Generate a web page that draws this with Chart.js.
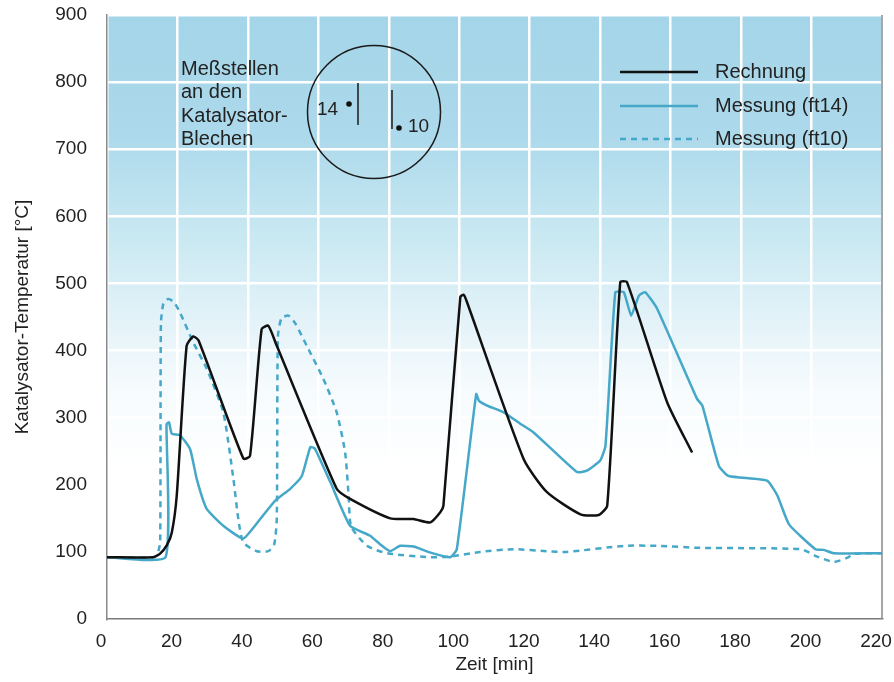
<!DOCTYPE html>
<html>
<head>
<meta charset="utf-8">
<title>Katalysator-Temperatur</title>
<script src="https://cdn.jsdelivr.net/npm/chart.js@4.4.1/dist/chart.umd.min.js"></script>
<style>
  html, body { margin: 0; padding: 0; background: #ffffff; }
  #wrap { width: 894px; height: 682px; }
</style>
</head>
<body>
<div id="wrap"><canvas id="tempChart" width="894" height="682"></canvas></div>
<script>
// ================================================================
// Data [START]
// ================================================================
const xTicks = [0, 20, 40, 60, 80, 100, 120, 140, 160, 180, 200, 220];
const yTicks = [0, 100, 200, 300, 400, 500, 600, 700, 800, 900];

const seriesLabels = ['Rechnung', 'Messung (ft14)', 'Messung (ft10)'];

// Rechnung (calculated)
const rechnungT = [0, 13, 15, 17, 18.4, 19.8, 22.6, 24.5, 26, 38.7, 40.6, 43.9, 45.8, 48.2,
  65.2, 69, 80.4, 87, 91.8, 94.6, 95.5, 100.3, 101.3, 102.2, 118.3, 124.9, 134.4, 139.6,
  142, 145.7, 147.6, 159, 166.1];
const rechnungV = [92, 92, 97, 110, 129, 184, 407, 421, 415, 239, 243, 432, 437, 407,
  194, 179, 150, 149, 144, 159, 169, 480, 483, 472, 238, 189, 156, 155,
  169, 502, 502, 323, 248];

// Messung ft14 (solid)
const ft14T = [0, 16.6, 16.9, 17.6, 18.4, 20.7, 23.6, 25.5, 28.3, 33, 38.7, 43.5, 47.7, 52,
  55.3, 57.7, 59, 63.4, 69, 74.7, 77.6, 80.4, 83.2, 87, 91.8, 97.4, 99.3, 104.8, 105.6,
  107.9, 112.6, 117.3, 121.1, 133.4, 136.2, 140, 141.5, 144.3, 146.7, 148.8, 151, 152.8,
  156.2, 167.5, 169, 173.7, 176.5, 187.4, 190.3, 193.6, 201.1, 203.5, 206.3, 220];
const ft14V = [92, 92, 290, 293, 276, 274, 253, 208, 164, 139, 120, 149, 176, 194,
  213, 256, 254, 204, 139, 124, 111, 101, 109, 108, 99, 92, 104, 335, 325,
  318, 308, 291, 278, 219, 221, 236, 258, 487, 487, 452, 482, 487,
  462, 328, 318, 228, 213, 206, 184, 141, 104, 103, 98, 98];

// Messung ft10 (dashed)
const ft10T = [0, 13.5, 14.5, 15.1, 15.3, 16, 17.4, 19, 20.7, 24.5, 28.3, 33, 35.9, 37.3,
  38.7, 42.5, 45.8, 47.5, 48.2, 48.5, 49.5, 51.5, 53.5, 56.7, 61.4, 65.2, 67.6, 68.6,
  69.3, 73.8, 79.5, 91.8, 97.4, 106, 115.4, 124.9, 130.5, 146.7, 156.2, 168.5, 196.9,
  201.6, 206.3, 210.1, 212, 220];
const ft10V = [92, 92, 100, 115, 440, 470, 477, 472, 457, 412, 373, 308, 208, 148,
  114, 101, 101, 112, 150, 420, 448, 452, 440, 407, 358, 308, 248, 183,
  138, 109, 98, 92, 93, 100, 104, 101, 100, 109, 109, 106, 104,
  93, 85, 91, 97, 98];
// ================================================================
// Data [END]
// ================================================================

const toPoints = (ts, vs) => ts.map((t, i) => ({ x: t, y: vs[i] }));

const FONT = "'Liberation Sans', Arial, Helvetica, sans-serif";
const TEXT = '#222222';
const CYAN = '#45a8c8';

// background gradient + right border
const backgroundPlugin = {
  id: 'bgGradient',
  beforeDraw(chart) {
    const { ctx, chartArea } = chart;
    const g = ctx.createLinearGradient(0, chartArea.top, 0, chartArea.bottom);
    g.addColorStop(0, '#a4d5e8');
    g.addColorStop(0.2, '#acd9eb');
    g.addColorStop(0.36, '#c8e8f2');
    g.addColorStop(0.5, '#e2f2f8');
    g.addColorStop(0.62, '#f6fbfd');
    g.addColorStop(0.75, '#ffffff');
    g.addColorStop(1, '#ffffff');
    ctx.save();
    ctx.fillStyle = g;
    ctx.fillRect(chartArea.left, chartArea.top, chartArea.right - chartArea.left, chartArea.bottom - chartArea.top);
    ctx.restore();
  },
  afterDraw(chart) {
    const { ctx, chartArea } = chart;
    ctx.save();
    ctx.strokeStyle = '#8a8a8a';
    ctx.lineWidth = 1.5;
    ctx.beginPath();
    ctx.moveTo(chartArea.right, chartArea.top);
    ctx.lineTo(chartArea.right, chartArea.bottom);
    ctx.stroke();
    ctx.restore();
  }
};

// legend (top right) and the inset with measuring points
const annotationPlugin = {
  id: 'annotations',
  afterDraw(chart) {
    const { ctx } = chart;
    ctx.save();
    ctx.font = '20px ' + FONT;
    ctx.fillStyle = TEXT;
    ctx.textBaseline = 'middle';

    // legend
    const rows = [72, 106, 139];
    chart.data.datasets.forEach((ds, i) => {
      ctx.beginPath();
      ctx.strokeStyle = ds.borderColor;
      ctx.lineWidth = ds.borderWidth;
      ctx.setLineDash(ds.borderDash || []);
      ctx.moveTo(620, rows[i]);
      ctx.lineTo(698, rows[i]);
      ctx.stroke();
      ctx.setLineDash([]);
      ctx.fillText(ds.label, 715, rows[i]);
    });

    // inset text
    const inset = ['Meßstellen', 'an den', 'Katalysator-', 'Blechen'];
    inset.forEach((s, i) => ctx.fillText(s, 181, 69 + i * 23.5));

    // circle
    ctx.strokeStyle = '#1a1a1a';
    ctx.lineWidth = 1.5;
    ctx.beginPath();
    ctx.arc(374, 112, 66.5, 0, Math.PI * 2);
    ctx.stroke();

    // sheets
    ctx.beginPath();
    ctx.moveTo(358, 83);
    ctx.lineTo(358, 125);
    ctx.moveTo(392, 90);
    ctx.lineTo(392, 129);
    ctx.stroke();

    // dots
    ctx.fillStyle = '#111111';
    ctx.beginPath();
    ctx.arc(349, 104, 2.8, 0, Math.PI * 2);
    ctx.fill();
    ctx.beginPath();
    ctx.arc(399, 128, 2.8, 0, Math.PI * 2);
    ctx.fill();

    ctx.fillStyle = TEXT;
    ctx.font = '19px ' + FONT;
    ctx.fillText('14', 317, 110);
    ctx.fillText('10', 408, 127);
    ctx.restore();
  }
};

const config = {
  type: 'line',
  data: {
    datasets: [
      {
        label: seriesLabels[0],
        data: toPoints(rechnungT, rechnungV),
        borderColor: '#111111',
        borderWidth: 2.5,
        pointRadius: 0,
        tension: 0.2,
        fill: false
      },
      {
        label: seriesLabels[1],
        data: toPoints(ft14T, ft14V),
        borderColor: CYAN,
        borderWidth: 2.5,
        pointRadius: 0,
        tension: 0.15,
        fill: false
      },
      {
        label: seriesLabels[2],
        data: toPoints(ft10T, ft10V),
        borderColor: CYAN,
        borderWidth: 2.5,
        borderDash: [6, 5],
        pointRadius: 0,
        tension: 0.2,
        fill: false
      }
    ]
  },
  options: {
    responsive: false,
    animation: false,
    events: [],
    layout: { padding: { top: 15, right: 12, left: 0, bottom: 0 } },
    plugins: {
      legend: { display: false },
      tooltip: { enabled: false }
    },
    scales: {
      x: {
        type: 'linear',
        min: xTicks[0],
        max: xTicks[xTicks.length - 1],
        afterBuildTicks: (scale) => { scale.ticks = xTicks.map(v => ({ value: v })); },
        afterFit: (scale) => {
          scale.height = 63;
          scale.paddingLeft = 0;
          scale.paddingRight = 0;
        },
        grid: { color: '#ffffff', lineWidth: 2.5, drawTicks: false },
        border: { color: '#7a7a7a', width: 1.5 },
        ticks: { color: TEXT, font: { family: FONT, size: 19 }, padding: 11, maxRotation: 0, labelOffset: -6 },
        title: {
          display: true,
          text: 'Zeit [min]',
          color: TEXT,
          font: { family: FONT, size: 19 },
          padding: { top: 0, bottom: 6 }
        }
      },
      y: {
        min: yTicks[0],
        max: yTicks[yTicks.length - 1],
        afterBuildTicks: (scale) => { scale.ticks = yTicks.map(v => ({ value: v })); },
        afterFit: (scale) => {
          scale.width = 107;
          scale.paddingTop = 0;
          scale.paddingBottom = 0;
        },
        grid: { color: '#ffffff', lineWidth: 2.5, drawTicks: false },
        border: { color: '#8a8a8a', width: 1.5 },
        ticks: { color: TEXT, font: { family: FONT, size: 19 }, padding: 20 },
        title: {
          display: true,
          text: 'Katalysator-Temperatur [°C]',
          color: TEXT,
          font: { family: FONT, size: 19 },
          padding: { top: 11, bottom: 0 }
        }
      }
    }
  },
  plugins: [backgroundPlugin, annotationPlugin]
};

new Chart(
  document.getElementById('tempChart'),
  config
);
</script>
</body>
</html>
